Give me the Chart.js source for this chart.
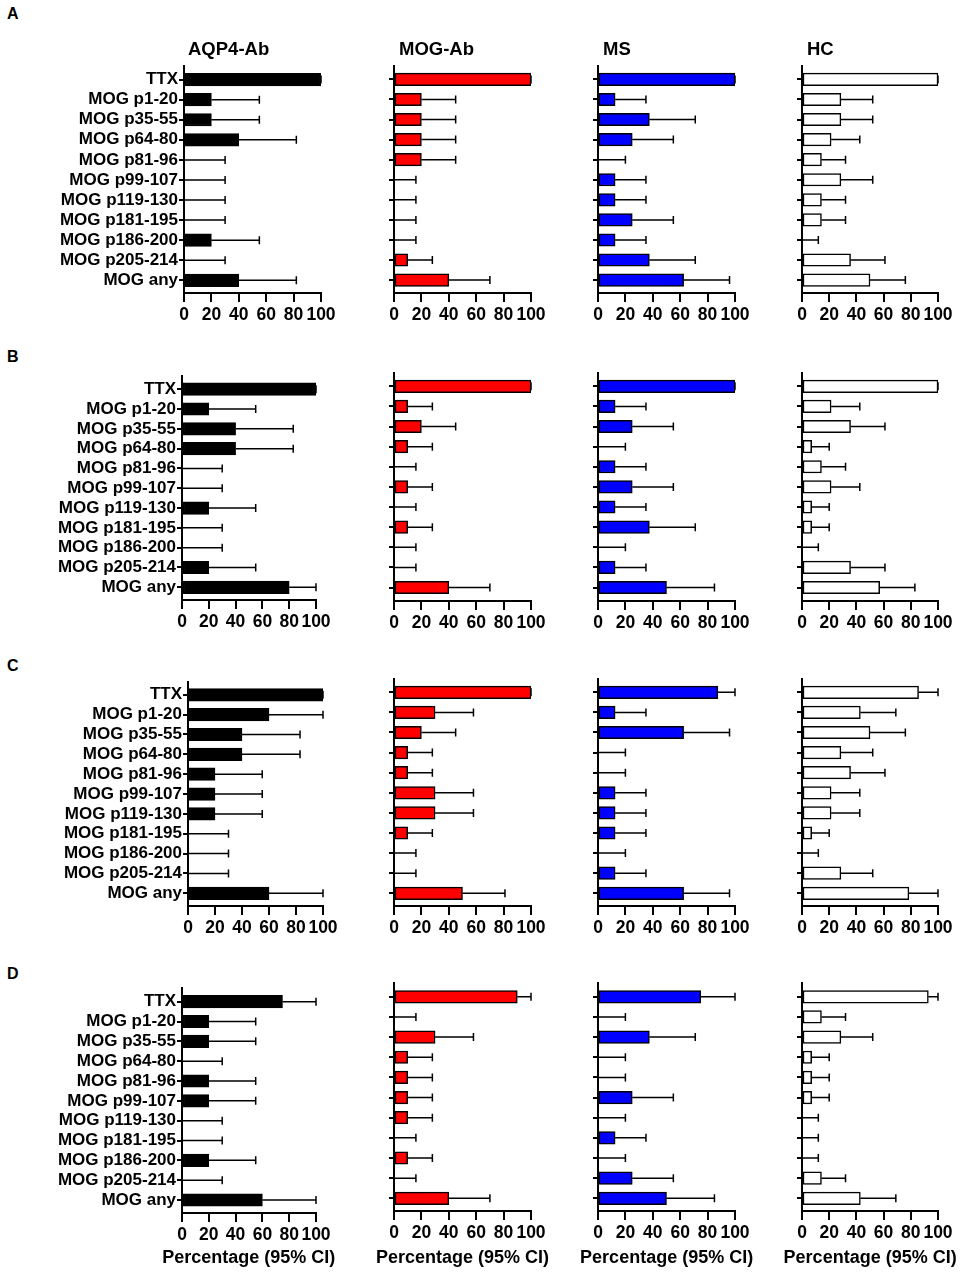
<!DOCTYPE html>
<html>
<head>
<meta charset="utf-8">
<script src="https://cdn.jsdelivr.net/npm/chart.js@4.4.1/dist/chart.umd.min.js"></script>
<style>
  body { margin: 0; background: #fff; width: 963px; height: 1272px; position: relative; overflow: hidden;
         font-family: 'Liberation Sans', Arial, sans-serif; }
  canvas { position: absolute; }
  .lbl { position: absolute; font-weight: bold; color: #000; white-space: nowrap; }
</style>
</head>
<body>
<script>
// Categories and tick labels
var categories = ['TTX', 'MOG p1-20', 'MOG p35-55', 'MOG p64-80', 'MOG p81-96', 'MOG p99-107',
                  'MOG p119-130', 'MOG p181-195', 'MOG p186-200', 'MOG p205-214', 'MOG any'];
var groups = ['AQP4-Ab', 'MOG-Ab', 'MS', 'HC'];
var panels = ['A', 'B', 'C', 'D'];
var xTicks = [0, 20, 40, 60, 80, 100];
var xTitle = 'Percentage (95% CI)';

// Panel A: percentage and upper 95% CI
var aqp4A    = [100, 20, 20, 40, 0, 0, 0, 0, 20, 0, 40];
var aqp4A_hi = [100, 55, 55, 82, 30, 30, 30, 30, 55, 30, 82];
var mogA     = [100, 20, 20, 20, 20, 0, 0, 0, 0, 10, 40];
var mogA_hi  = [100, 45, 45, 45, 45, 16, 16, 16, 16, 28, 70];
var msA      = [100, 12.5, 37.5, 25, 0, 12.5, 12.5, 25, 12.5, 37.5, 62.5];
var msA_hi   = [100, 35, 71, 55, 20, 35, 35, 55, 35, 71, 96];
var hcA      = [100, 28.6, 28.6, 21.4, 14.3, 28.6, 14.3, 14.3, 0, 35.7, 50];
var hcA_hi   = [100, 52, 52, 42.5, 32, 52, 32, 32, 12, 61, 76];

// Panel B
var aqp4B    = [100, 20, 40, 40, 0, 0, 20, 0, 0, 20, 80];
var aqp4B_hi = [100, 55, 83, 83, 30, 30, 55, 30, 30, 55, 100];
var mogB     = [100, 10, 20, 10, 0, 10, 0, 10, 0, 0, 40];
var mogB_hi  = [100, 28, 45, 28, 16, 28, 16, 28, 16, 16, 70];
var msB      = [100, 12.5, 25, 0, 12.5, 25, 12.5, 37.5, 0, 12.5, 50];
var msB_hi   = [100, 35, 55, 20, 35, 55, 35, 71, 20, 35, 85];
var hcB      = [100, 21.4, 35.7, 7.1, 14.3, 21.4, 7.1, 7.1, 0, 35.7, 57.1];
var hcB_hi   = [100, 42.5, 61, 20, 32, 42.5, 20, 20, 12, 61, 83];

// Panel C
var aqp4C    = [100, 60, 40, 40, 20, 20, 20, 0, 0, 0, 60];
var aqp4C_hi = [100, 100, 83, 83, 55, 55, 55, 30, 30, 30, 100];
var mogC     = [100, 30, 20, 10, 10, 30, 30, 10, 0, 0, 50];
var mogC_hi  = [100, 58, 45, 28, 28, 58, 58, 28, 16, 16, 81];
var msC      = [87.5, 12.5, 62.5, 0, 0, 12.5, 12.5, 12.5, 0, 12.5, 62.5];
var msC_hi   = [100, 35, 96, 20, 20, 35, 35, 35, 20, 35, 96];
var hcC      = [85.7, 42.9, 50, 28.6, 35.7, 21.4, 21.4, 7.1, 0, 28.6, 78.6];
var hcC_hi   = [100, 69, 76, 52, 61, 42.5, 42.5, 20, 12, 52, 100];

// Panel D
var aqp4D    = [75, 20, 20, 0, 20, 20, 0, 0, 20, 0, 60];
var aqp4D_hi = [100, 55, 55, 30, 55, 55, 30, 30, 55, 30, 100];
var mogD     = [90, 0, 30, 10, 10, 10, 10, 0, 10, 0, 40];
var mogD_hi  = [100, 16, 58, 28, 28, 28, 28, 16, 28, 16, 70];
var msD      = [75, 0, 37.5, 0, 0, 25, 0, 12.5, 0, 25, 50];
var msD_hi   = [100, 20, 71, 20, 20, 55, 20, 35, 20, 55, 85];
var hcD      = [92.9, 14.3, 28.6, 7.1, 7.1, 7.1, 0, 0, 0, 14.3, 42.9];
var hcD_hi   = [100, 32, 52, 20, 20, 20, 12, 12, 12, 32, 69];

var panelData = [
  [[aqp4A, aqp4A_hi], [mogA, mogA_hi], [msA, msA_hi], [hcA, hcA_hi]],
  [[aqp4B, aqp4B_hi], [mogB, mogB_hi], [msB, msB_hi], [hcB, hcB_hi]],
  [[aqp4C, aqp4C_hi], [mogC, mogC_hi], [msC, msC_hi], [hcC, hcC_hi]],
  [[aqp4D, aqp4D_hi], [mogD, mogD_hi], [msD, msD_hi], [hcD, hcD_hi]]
];

// layout (pixels in the page)
var fills = ['#000000', '#ff0000', '#0000ff', '#ffffff'];
var firstColX = [[183.7, 320.7], [181.7, 316], [188.3, 322.7], [181.7, 316]];
var otherColX = [null, [394.3, 530.7], [598.3, 735], [802, 938.3]];
// centre of TTX row and of MOG any row: [first column], [other columns]
var rowY = [
  [[79.6, 280.3], [79.4, 280.1]],
  [[389.2, 587.3], [386.3, 587.5]],
  [[694.8, 893.3], [692.3, 893.3]],
  [[1001.7, 1200], [996.8, 1198.3]]
];
var letterY = [13.3, 356, 665, 973];
var FONT = "'Liberation Sans', Arial, sans-serif";

// upper-CI whiskers
var errorBars = {
  id: 'errorBars',
  afterDatasetsDraw: function (chart) {
    var ctx = chart.ctx, xs = chart.scales.x, ys = chart.scales.y;
    var ds = chart.data.datasets[0];
    ctx.save();
    ctx.strokeStyle = '#000';
    ctx.lineWidth = 1.5;
    ds.data.forEach(function (p, i) {
      var a = xs.getPixelForValue(p.x), b = xs.getPixelForValue(ds.upper[i]), y = ys.getPixelForValue(p.y);
      ctx.beginPath();
      ctx.moveTo(a, y); ctx.lineTo(b, y);
      ctx.moveTo(b, y - 4); ctx.lineTo(b, y + 4);
      ctx.stroke();
    });
    ctx.restore();
  }
};

function addText(txt, left, top, size, width) {
  var d = document.createElement('div');
  d.className = 'lbl';
  d.textContent = txt;
  d.style.left = left + 'px';
  d.style.top = top + 'px';
  d.style.fontSize = size + 'px';
  d.style.lineHeight = (size + 2) + 'px';
  if (width) { d.style.width = width + 'px'; d.style.textAlign = 'center'; }
  document.body.appendChild(d);
}

function makeChart(r, c) {
  var xr = c === 0 ? firstColX[r] : otherColX[c];
  var yc = rowY[r][c === 0 ? 0 : 1];
  var ttx = yc[0], any = yc[1];
  var step = (any - ttx) / 10;
  var top = Math.round(ttx - 0.67 * step), bottom = Math.round(any + 0.655 * step);
  var left = Math.round(xr[0]), right = Math.round(xr[1]);
  var YW = c === 0 ? left : 30;
  var PT = 20, PR = 25, XH = 40;

  var cv = document.createElement('canvas');
  cv.width = YW + (right - left) + PR;
  cv.height = PT + (bottom - top) + XH;
  cv.style.left = (left - YW) + 'px';
  cv.style.top = (top - PT) + 'px';
  document.body.appendChild(cv);

  if (r === 3) addText(xTitle, (xr[0] + xr[1]) / 2 - 110, 1247, 18, 220);

  var vals = panelData[r][c][0], hi = panelData[r][c][1];

  new Chart(cv, {
    type: 'bar',
    data: {
      datasets: [{
        data: vals.map(function (v, i) { return { x: v, y: i }; }),
        upper: hi,
        backgroundColor: fills[c],
        borderColor: '#000',
        borderWidth: 1.5,
        borderSkipped: false,
        barThickness: 12.5
      }]
    },
    options: {
      indexAxis: 'y',
      responsive: false,
      animation: false,
      events: [],
      layout: { padding: { top: PT, right: PR, left: 0, bottom: 0 } },
      plugins: { legend: { display: false }, tooltip: { enabled: false } },
      scales: {
        x: {
          type: 'linear', position: 'bottom', min: 0, max: 100, offset: false,
          afterBuildTicks: function (s) { s.ticks = xTicks.map(function (v) { return { value: v }; }); },
          grid: { drawOnChartArea: false, drawTicks: true, tickLength: 9, color: '#000', lineWidth: 2, offset: false },
          border: { display: true, color: '#000', width: 2 },
          ticks: { color: '#000', font: { family: FONT, size: 17.5, weight: 'bold' }, padding: 3,
                   maxRotation: 0, minRotation: 0, autoSkip: false },
          afterFit: function (s) { s.height = XH; }
        },
        y: {
          type: 'linear', position: 'left', reverse: true, offset: false,
          min: -(ttx - top) / step, max: 10 + (bottom - any) / step,
          afterBuildTicks: function (s) { s.ticks = categories.map(function (_, i) { return { value: i }; }); },
          grid: { drawOnChartArea: false, drawTicks: true, tickLength: 5, color: '#000', lineWidth: 2, offset: false },
          border: { display: true, color: '#000', width: 2 },
          ticks: { display: c === 0, color: '#000', font: { family: FONT, size: 17, weight: 'bold' },
                   padding: 1, autoSkip: false, callback: function (v) { return categories[v]; } },
          afterFit: function (s) { s.width = YW; }
        }
      }
    },
    plugins: [errorBars]
  });
}

for (var r = 0; r < 4; r++) {
  addText(panels[r], 7, letterY[r] - 8, 16);
  for (var c = 0; c < 4; c++) makeChart(r, c);
}
// column titles above panel A
for (var c = 0; c < 4; c++) {
  var x0 = c === 0 ? firstColX[0][0] : otherColX[c][0];
  addText(groups[c], Math.round(x0 + 4.5), 39, 18.5);
}
</script>
</body>
</html>
